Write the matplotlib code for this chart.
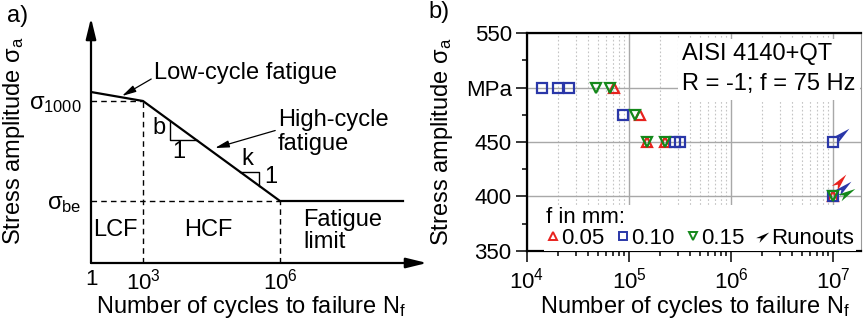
import numpy as np
import matplotlib
matplotlib.use("Agg")
import matplotlib.pyplot as plt
from matplotlib.lines import Line2D
from matplotlib.markers import MarkerStyle
from matplotlib.path import Path
from matplotlib.transforms import Affine2D, offset_copy
from matplotlib.ticker import FixedLocator, LogLocator, NullFormatter

plt.rcParams['font.family'] = ['Liberation Sans', 'DejaVu Sans']
plt.rcParams['mathtext.fontset'] = 'custom'
plt.rcParams['mathtext.rm'] = 'Liberation Sans'
plt.rcParams['mathtext.it'] = 'Liberation Sans'
plt.rcParams['mathtext.sf'] = 'Liberation Sans'
plt.rcParams['mathtext.bf'] = 'Liberation Sans:bold'

# ---- panel a: schematic S-N curve (schematic units) ----
curve_x = [0, 52, 189, 312]        # N = 1, 10^3, 10^6, end
curve_y = [171, 162, 62, 62]
tick_pos = [0, 52, 189]
tick_lab = ['1', '$10^3$', '$10^6$']
sig_1000 = 162
sig_be = 62

# ---- panel b: test data ----
N_005 = [7.2e4, 1.28e5, 1.49e5, 2.25e5, 1e7]
S_005 = [500, 475, 450, 450, 400]
N_010 = [1.4e4, 2.0e4, 2.6e4, 8.8e4, 2.82e5, 3.16e5, 1e7, 1e7]
S_010 = [500, 500, 500, 475, 450, 450, 450, 400]
N_015 = [4.8e4, 6.5e4, 1.15e5, 1.49e5, 2.25e5, 1e7]
S_015 = [500, 500, 475, 450, 450, 400]
run_N = [1e7, 1e7, 1e7, 1e7]
run_S = [450, 400, 400, 400]
run_series = ['0.10', '0.05', '0.10', '0.15']

colors = {'0.05': '#e8221e', '0.10': '#2a37a8', '0.15': '#14881a'}
# runout arrow offsets (pixels) and angles
run_off = [(9, 8), (7, 15), (11, 9), (14, 3)]
run_ang = [40, 50, 40, 30]

W, H = 863, 320
fig = plt.figure(figsize=(W / 100, H / 100), dpi=100)


def px_axes(l, t, r, b):
    return fig.add_axes([l / W, 1 - b / H, (r - l) / W, (b - t) / H])


# ================= panel a =================
axa = px_axes(91, 18, 427, 263)
axa.set_xlim(0, 336)
axa.set_ylim(0, 245)
for s in axa.spines.values():
    s.set_visible(False)
arrow = dict(arrowstyle='-|>,head_length=0.9,head_width=0.22', lw=1.6, color='k',
             shrinkA=0, shrinkB=0, mutation_scale=14)
axa.annotate('', xy=(0, 245), xytext=(0, 0), arrowprops=arrow)
axa.annotate('', xy=(336, 0), xytext=(0, 0), arrowprops=arrow)

axa.plot(curve_x, curve_y, color='k', lw=1.6, solid_joinstyle='miter')
dash = dict(color='k', lw=1, linestyle=(0, (4, 3)))
axa.plot([0, curve_x[1]], [sig_1000, sig_1000], **dash)
axa.plot([curve_x[1], curve_x[1]], [0, sig_1000], **dash)
axa.plot([0, curve_x[2]], [sig_be, sig_be], **dash)
axa.plot([curve_x[2], curve_x[2]], [0, sig_be], **dash)


def on_line(x):
    return np.interp(x, curve_x, curve_y)


# slope triangles
bx1, bx2 = 79, 106
axa.plot([bx1, bx1, bx2], [on_line(bx1), on_line(bx2), on_line(bx2)], color='k', lw=1)
kx1, kx2 = 149, 168
axa.plot([kx1, kx2, kx2], [on_line(kx1), on_line(kx1), on_line(kx2)], color='k', lw=1)
fs = 17
axa.text(68, 135, 'b', fontsize=fs, ha='center', va='center')
axa.text(88, 111, '1', fontsize=fs, ha='center', va='center')
axa.text(156, 104, 'k', fontsize=fs, ha='center', va='center')
axa.text(180, 86, '1', fontsize=fs, ha='center', va='center')

thin = dict(arrowstyle='-|>,head_length=0.6,head_width=0.15', lw=0.9, color='k',
            shrinkA=0, shrinkB=0, mutation_scale=14)
axa.annotate('Low-cycle fatigue', xy=(31, 167), xytext=(63, 190), fontsize=fs,
             ha='left', va='center', arrowprops=dict(thin, relpos=(0, 0.3)))
axa.annotate('High-cycle\nfatigue', xy=(124, 115), xytext=(187, 131), fontsize=fs,
             ha='left', va='center', linespacing=1.1,
             arrowprops=dict(thin, relpos=(0, 0.55)))

axa.text(24, 33, 'LCF', fontsize=fs, ha='center', va='center')
axa.text(117, 33, 'HCF', fontsize=fs, ha='center', va='center')
axa.text(212, 32, 'Fatigue\nlimit', fontsize=fs, ha='left', va='center', linespacing=1.05)

axa.set_xticks(tick_pos, tick_lab)
axa.set_yticks([sig_1000, sig_be], [r'$\sigma_{1000}$', r'$\sigma_{be}$'])
axa.tick_params(axis='x', length=0, pad=4, labelsize=16)
axa.tick_params(axis='y', length=0, pad=7, labelsize=17)
axa.set_xlabel('Number of cycles to failure N$_f$', fontsize=17)
axa.set_ylabel(r'Stress amplitude $\sigma_a$', fontsize=17)
axa.xaxis.set_label_coords(0.476, -0.127)
axa.yaxis.set_label_coords(-0.19, 0.5)
fig.text(7 / W, 1 - 16 / H, 'a)', fontsize=17, ha='left', va='center')

# ================= panel b =================
axb = px_axes(527, 33, 861, 251)
axb.set_xscale('log')
axb.set_xlim(1e4, 1.88e7)
axb.set_ylim(350, 550)

axb.xaxis.set_major_locator(LogLocator(base=10, numticks=10))
axb.xaxis.set_minor_locator(LogLocator(base=10, subs=np.arange(2, 10), numticks=20))
axb.xaxis.set_minor_formatter(NullFormatter())
axb.yaxis.set_major_locator(FixedLocator([350, 400, 450, 500, 550]))
axb.yaxis.set_minor_locator(FixedLocator([375, 425, 475, 525]))
axb.set_yticklabels(['350', '400', '450', 'MPa', '550'])

axb.grid(which='major', color='#a8a8a8', lw=1)
axb.grid(which='minor', axis='x', color='#c4c4c4', lw=0.8, linestyle=(0, (1.5, 2)))
axb.set_axisbelow(True)

for side in ['left', 'bottom', 'top']:
    axb.spines[side].set_linewidth(1.6)
axb.spines['right'].set_linewidth(0.8)
axb.spines['right'].set_color('#999999')
axb.tick_params(which='major', length=8, width=1.1, labelsize=16, pad=3)
axb.tick_params(which='minor', length=3.5, width=1.1)
axb.tick_params(axis='x', which='major', pad=4)

mk = dict(ls='none', mfc='none', ms=7.5, mew=1.6, zorder=7, clip_on=False)
axb.plot(N_005, S_005, marker='^', mec=colors['0.05'], **mk)
axb.plot(N_010, S_010, marker='s', mec=colors['0.10'], **mk)
axb.plot(N_015, S_015, marker='v', mec=colors['0.15'], **mk)

# runout arrowhead marker
head = Path([(1, 0), (-1, 0.42), (-0.45, 0), (-1, -0.42), (1, 0)],
            [Path.MOVETO, Path.LINETO, Path.LINETO, Path.LINETO, Path.CLOSEPOLY])
for n, s, ser, (dx, dy), ang in zip(run_N, run_S, run_series, run_off, run_ang):
    tr = offset_copy(axb.transData, fig=fig, x=dx, y=dy, units='dots')
    m = MarkerStyle(head, transform=Affine2D().rotate_deg(ang))
    axb.plot([n], [s], marker=m, ls='none', ms=13, color=colors[ser], mew=0,
             transform=tr, zorder=6, clip_on=False)

axb.text(0.984, 0.955, 'AISI 4140+QT\nR = -1; f = 75 Hz', transform=axb.transAxes,
         fontsize=17, ha='right', va='top', multialignment='left', linespacing=1.5,
         zorder=5, bbox=dict(facecolor='white', edgecolor='none', pad=3))

handles = [
    Line2D([], [], marker='^', ls='none', mfc='none', mec=colors['0.05'], ms=6, mew=1.4),
    Line2D([], [], marker='s', ls='none', mfc='none', mec=colors['0.10'], ms=6, mew=1.4),
    Line2D([], [], marker='v', ls='none', mfc='none', mec=colors['0.15'], ms=6, mew=1.4),
    Line2D([], [], marker=MarkerStyle(head, transform=Affine2D().rotate_deg(35)),
           ls='none', color='k', ms=10, mew=0),
]
leg = axb.legend(handles, ['0.05', '0.10', '0.15', 'Runouts'], title='f in mm:',
                 loc='lower left', bbox_to_anchor=(0.045, -0.01), ncol=4, fontsize=16,
                 title_fontsize=16, handlelength=0.6, handletextpad=0.05,
                 columnspacing=0.55, borderpad=0.1, borderaxespad=0.1,
                 labelspacing=0.0, frameon=True, fancybox=False, framealpha=1,
                 alignment='left')
leg.get_frame().set_edgecolor('none')
leg.set_zorder(5)

axb.set_xlabel('Number of cycles to failure N$_f$', fontsize=17)
axb.set_ylabel(r'Stress amplitude $\sigma_a$', fontsize=17)
axb.xaxis.set_label_coords(0.504, -0.197)
axb.yaxis.set_label_coords(-0.215, 0.5)
fig.text(428 / W, 1 - 12 / H, 'b)', fontsize=17, ha='left', va='center')

fig.savefig('out.png', dpi=100)
